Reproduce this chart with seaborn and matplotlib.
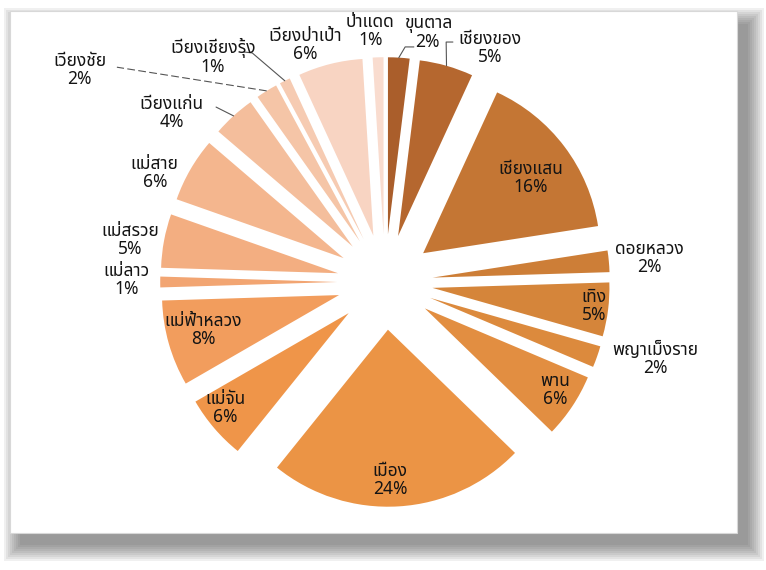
"""Exploded pie: share of cases by district (Thai labels)."""
import math

import matplotlib
matplotlib.use("Agg")
import matplotlib.pyplot as plt
from matplotlib.patches import Rectangle
import seaborn as sns

sns.set_theme(style="white")
plt.rcParams["font.family"] = ["Noto Sans Thai", "Sarabun", "Athiti", "DejaVu Sans"]

# data, clockwise from 12 o'clock
districts = [
    "ขุนตาล", "เชียงของ", "เชียงแสน", "ดอยหลวง", "เทิง", "พญาเม็งราย",
    "พาน", "เมือง", "แม่จัน", "แม่ฟ้าหลวง", "แม่ลาว", "แม่สรวย",
    "แม่สาย", "เวียงแก่น", "เวียงชัย", "เวียงเชียงรุ้ง", "เวียงป่าเป้า", "ป่าแดด",
]
percent = [2, 5, 16, 2, 5, 2, 6, 24, 6, 8, 1, 5, 6, 4, 2, 1, 6, 1]

colors = [
    "#aa5e2b", "#b5672f", "#c47634", "#cd7e37", "#d5853a", "#dc8a3d",
    "#e28e41", "#eb9445", "#ef9549", "#f29d5d", "#f2a572", "#f3ae81",
    "#f4b68e", "#f4be9c", "#f5c5a7", "#f6cbb2", "#f8d4c2", "#f9dccf",
]

# label placement: distance from pie centre (in radii) and angle nudge (deg)
label_dist = [1.43, 1.45, 1.01, 1.50, 1.19, 1.59, 1.14, 1.12, 1.15,
              1.06, 1.46, 1.46, 1.44, 1.54, 2.10, 1.60, 1.41, 1.42]
label_nudge = [6.2, 8.3, 1.5, 0.0, -0.5, -3.5, -1.1, 2.1, 2.4,
               1.1, 0.4, -1.2, -4.6, -9.2, -23.5, -10.9, -4.5, -1.6]

# leader lines: list of (dist, angle) points after the wedge's outer point
leaders = {
    0: [(1.333, 4.9), (1.338, 7.0)],
    1: [(1.399, 14.3), (1.409, 15.8)],
    13: [(1.374, 316.0)],
    14: [(1.941, 308.7)],
    15: [(1.496, 329.9), (1.524, 328.5)],
}

W, H = 766, 570
CX, CY, R = 385, 282, 177  # pie centre / radius in pixels
EXPLODE = 0.27


def polar(d, ang):
    a = math.radians(ang)
    return d * math.sin(a), d * math.cos(a)


def px_rect(x0, y0, x1, y1, **kw):
    return Rectangle((x0 / W, 1 - y1 / H), (x1 - x0) / W, (y1 - y0) / H,
                     transform=fig.transFigure, **kw)


fig = plt.figure(figsize=(W / 100, H / 100), dpi=100)
fig.patch.set_facecolor("white")

# drop shadow + white panel
for s in range(0, 18, 2):
    fig.add_artist(px_rect(20 - s, 24 - s, 748 + s, 545 + s, facecolor="#3c3c3c",
                           edgecolor="none", alpha=0.075, zorder=0))
fig.add_artist(px_rect(10, 11, 737, 533, facecolor="white",
                       edgecolor="#d8d8d8", linewidth=0.8, zorder=1))

ax = fig.add_axes([0, 0, 1, 1])
ax.patch.set_alpha(0)
ax.set_zorder(2)
wedges, _ = ax.pie(
    percent,
    colors=colors,
    startangle=90,
    counterclock=False,
    explode=[EXPLODE] * len(percent),
    radius=1,
    wedgeprops={"linewidth": 0},
)

total = sum(percent)
cum = 0
for i, (name, p) in enumerate(zip(districts, percent)):
    mid = (cum + p / 2) / total * 360
    cum += p
    tx, ty = polar(label_dist[i], mid + label_nudge[i])
    ax.text(tx, ty, f"{name}\n{p}%", ha="center", va="center", fontsize=12.5,
            color="#141414", linespacing=1.0)
    if i in leaders:
        pts = [polar(1 + EXPLODE, mid)] + [polar(d, a) for d, a in leaders[i]]
        xs, ys = zip(*pts)
        ax.plot(xs, ys, color="#555555", linewidth=0.8,
                linestyle=(0, (7, 3)) if i == 14 else "-")

ax.set_xlim(-CX / R, (W - CX) / R)
ax.set_ylim(-(H - CY) / R, CY / R)
ax.set_aspect("equal", adjustable="datalim")
ax.axis("off")

fig.savefig("out.png", dpi=100)
